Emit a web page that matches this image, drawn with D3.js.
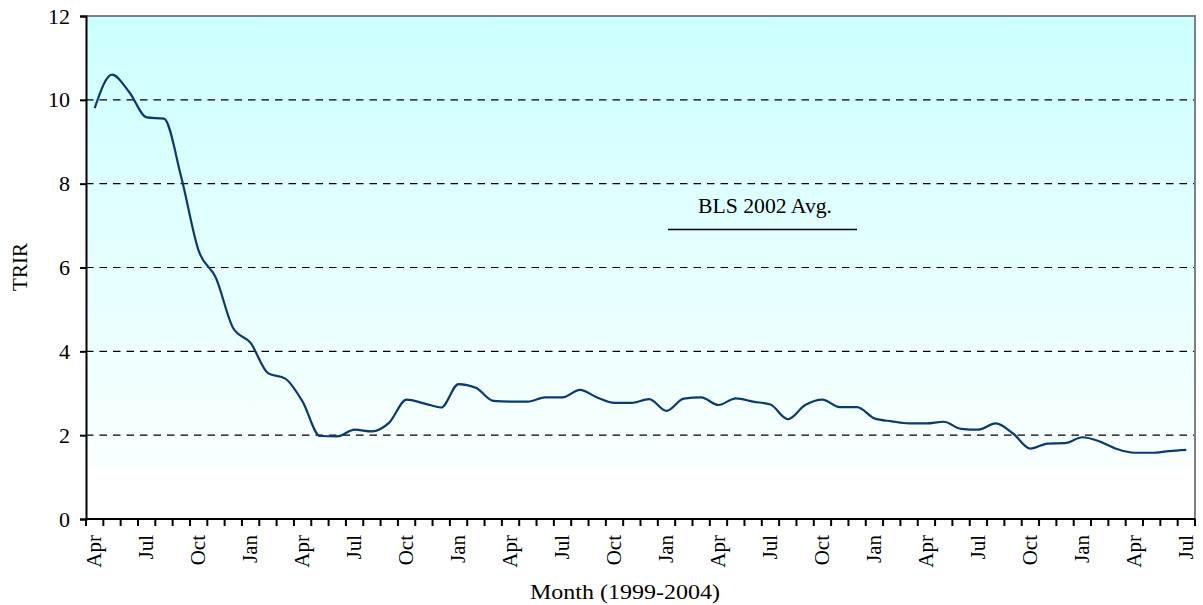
<!DOCTYPE html>
<html>
<head>
<meta charset="utf-8">
<script src="https://cdn.jsdelivr.net/npm/d3@7"></script>
<style>
  body { margin: 0; background: #fff; }
  text { font-family: "Liberation Serif", "Times New Roman", serif; fill: #000; }
</style>
</head>
<body>
<div id="chart"></div>
<script>
// TRIR by month, Apr 1999 .. Jul 2004
const startMonth = new Date(1999, 3, 1);
const endMonth = new Date(2004, 6, 1);
const months = d3.timeMonth.range(startMonth, d3.timeMonth.offset(endMonth, 1));

const trir = [9.8, 10.6, 10.18, 9.58, 9.55, 8.15, 6.4, 5.75, 4.55, 4.2, 3.48, 3.35,
  2.8, 1.98, 1.97, 2.13, 2.09, 2.3, 2.85, 2.76, 2.66, 3.22, 3.13, 2.82,
  2.8, 2.8, 2.9, 2.9, 3.08, 2.9, 2.77, 2.77, 2.86, 2.58, 2.87, 2.9,
  2.72, 2.88, 2.8, 2.73, 2.38, 2.72, 2.85, 2.67, 2.67, 2.4, 2.33, 2.28,
  2.28, 2.32, 2.15, 2.13, 2.28, 2.04, 1.68, 1.8, 1.81, 1.95, 1.85, 1.67,
  1.58, 1.58, 1.62, 1.65];

const yTicks = [0, 2, 4, 6, 8, 10, 12];
const monthNames = ["Jan","Feb","Mar","Apr","May","Jun","Jul","Aug","Sep","Oct","Nov","Dec"];
const xTitle = "Month (1999-2004)";
const yTitle = "TRIR";
const noteLabel = "BLS 2002 Avg.";

const W = 1203, H = 605;
const margin = {top: 16, right: 8, bottom: 86, left: 86};
const innerW = W - margin.left - margin.right;
const innerH = H - margin.top - margin.bottom;

const svg = d3.select("#chart").append("svg")
  .attr("width", W)
  .attr("height", H);

const defs = svg.append("defs");
const grad = defs.append("linearGradient")
  .attr("id", "bg")
  .attr("x1", 0).attr("y1", 0).attr("x2", 0).attr("y2", 1);
grad.append("stop").attr("offset", 0).attr("stop-color", "#ccffff");
grad.append("stop").attr("offset", 0.895).attr("stop-color", "#f9ffff");
grad.append("stop").attr("offset", 0.898).attr("stop-color", "#ffffff");
grad.append("stop").attr("offset", 1).attr("stop-color", "#ffffff");

const g = svg.append("g")
  .attr("transform", "translate(" + margin.left + "," + margin.top + ")");

const x = d3.scaleBand()
  .domain(months)
  .range([0, innerW])
  .padding(0);

const y = d3.scaleLinear()
  .domain([0, 12])
  .range([innerH, 0]);

// plot background
g.append("rect")
  .attr("x", 0).attr("y", 0)
  .attr("width", innerW).attr("height", innerH)
  .attr("fill", "url(#bg)");

// gridlines
g.append("g")
  .selectAll("line")
  .data(yTicks.filter(d => d > 0 && d < 12))
  .enter().append("line")
    .attr("x1", 0).attr("x2", innerW)
    .attr("y1", d => y(d)).attr("y2", d => y(d))
    .attr("stroke", "#000")
    .attr("stroke-width", 1.2)
    .attr("stroke-dasharray", "7.5,6");

// top and right border
g.append("path")
  .attr("d", "M0," + y(12) + "H" + innerW + "V" + y(0))
  .attr("fill", "none")
  .attr("stroke", "#808080")
  .attr("stroke-width", 2);

// y axis
const yAxis = g.append("g")
  .attr("font-family", "Liberation Serif")
  .call(d3.axisLeft(y).tickValues(yTicks).tickSize(6).tickPadding(10));
yAxis.select(".domain").attr("stroke", "#000").attr("stroke-width", 2);
yAxis.selectAll(".tick line").attr("stroke", "#000").attr("stroke-width", 2);
yAxis.selectAll(".tick text")
  .style("font-family", "'Liberation Serif', serif")
  .style("font-size", "22px")
  .attr("fill", "#000");

// x axis: ticks between months
const xAxis = g.append("g").attr("transform", "translate(0," + innerH + ")");
xAxis.append("line")
  .attr("x1", 0).attr("x2", innerW)
  .attr("stroke", "#000").attr("stroke-width", 2);
const boundaries = months.map(d => x(d)).concat([x(months[months.length - 1]) + x.bandwidth()]);
xAxis.selectAll(".mtick")
  .data(boundaries)
  .enter().append("line")
    .attr("class", "mtick")
    .attr("x1", d => d).attr("x2", d => d)
    .attr("y1", 0).attr("y2", 7)
    .attr("stroke", "#000").attr("stroke-width", 2);
xAxis.selectAll(".mlabel")
  .data(months.filter((d, i) => i % 3 === 0))
  .enter().append("text")
    .attr("class", "mlabel")
    .attr("transform", d => "translate(" + (x(d) + x.bandwidth() / 2) + ",16) rotate(-90)")
    .attr("dy", "0.32em")
    .attr("text-anchor", "end")
    .style("font-size", "21px")
    .text(d => monthNames[d.getMonth()]);

// line
const line = d3.line()
  .x((d, i) => x(months[i]) + x.bandwidth() / 2)
  .y(d => y(d))
  .curve(d3.curveMonotoneX);

g.append("path")
  .datum(trir)
  .attr("d", line)
  .attr("fill", "none")
  .attr("stroke", "#0b3a6e")
  .attr("stroke-width", 2.2);

// annotation
g.append("text")
  .attr("x", 765 - margin.left)
  .attr("y", 213 - margin.top)
  .attr("text-anchor", "middle")
  .attr("textLength", 134)
  .attr("lengthAdjust", "spacingAndGlyphs")
  .style("font-size", "21px")
  .text(noteLabel);
g.append("line")
  .attr("x1", 668 - margin.left).attr("x2", 857 - margin.left)
  .attr("y1", 229.5 - margin.top).attr("y2", 229.5 - margin.top)
  .attr("stroke", "#000").attr("stroke-width", 1.5);

// axis titles
svg.append("text")
  .attr("x", 625)
  .attr("y", 599)
  .attr("text-anchor", "middle")
  .attr("textLength", 190)
  .attr("lengthAdjust", "spacingAndGlyphs")
  .style("font-size", "21px")
  .text(xTitle);

svg.append("text")
  .attr("transform", "translate(26.5,267) rotate(-90)")
  .attr("text-anchor", "middle")
  .style("font-size", "21px")
  .text(yTitle);
</script>
</body>
</html>
